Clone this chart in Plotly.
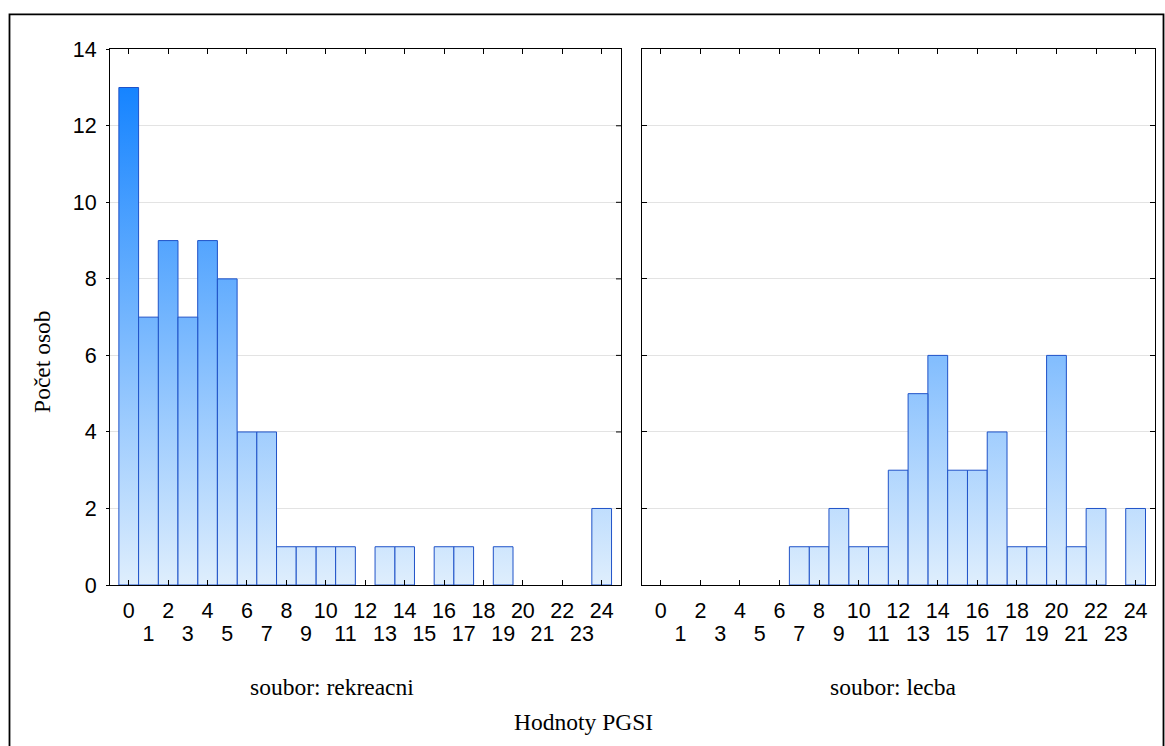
import plotly.graph_objects as go

# PGSI score bins and number of people per bin in each group
pgsi_values = list(range(25))
counts_rekreacni = [13, 7, 9, 7, 9, 8, 4, 4, 1, 1, 1, 1, 0, 1, 1, 0, 1, 1, 0, 1, 0, 0, 0, 0, 2]
counts_lecba = [0, 0, 0, 0, 0, 0, 0, 1, 1, 2, 1, 1, 3, 5, 6, 3, 3, 4, 1, 1, 6, 1, 2, 0, 2]

panel_titles = ["soubor: rekreacni", "soubor: lecba"]
y_title = "Počet osob"
x_title = "Hodnoty PGSI"
y_ticks = list(range(0, 15, 2))
even_vals = [v for v in pgsi_values if v % 2 == 0]
odd_vals = [v for v in pgsi_values if v % 2 == 1]

W, H = 1165, 746
SANS = "Liberation Sans, Arial, sans-serif"
SERIF = "Liberation Serif, Times New Roman, serif"
BAR_LINE = "#1f52c8"
GRADIENT = [[0.0, "rgb(230,242,253)"], [1.0, "rgb(22,132,255)"]]
GRAD_TOP = max(max(counts_rekreacni), max(counts_lecba))
TICK_SIZE = 21.5
TITLE_SIZE = 23.5

# vertical pixel -> paper fraction (page offset and drawable height)
TOP_OFF, DRAW_H = 9.6, 725.0


def py(px):
    return 1 - (px - TOP_OFF) / DRAW_H


def pxx(px):
    return px / W


# panel placement in pixels (left, right) and vertical extent (top, bottom)
panels_px = [(110, 621), (642, 1155)]
top_px, bottom_px = 48, 586
ydom = [py(bottom_px), py(top_px)]

fig = go.Figure()


def add_bars(counts, x_even, x_odd, yref):
    # even bins sit on the axis carrying even labels, odd bins on the odd-label overlay
    for v, c in zip(pgsi_values, counts):
        if c == 0:
            continue
        fig.add_trace(go.Scatter(
            x=[v - 0.5, v - 0.5, v + 0.5, v + 0.5, v - 0.5],
            y=[0, c, c, 0, 0],
            mode="lines",
            fill="toself",
            fillgradient=dict(type="vertical", colorscale=GRADIENT, start=0, stop=GRAD_TOP),
            line=dict(color=BAR_LINE, width=1),
            xaxis=x_even if v % 2 == 0 else x_odd, yaxis=yref,
            hoverinfo="skip",
            showlegend=False,
        ))


add_bars(counts_rekreacni, "x", "x3", "y")
add_bars(counts_lecba, "x2", "x4", "y2")

xrange_ = [-0.95, 24.98]
yrange_ = [0, 14]
tickfont = dict(family=SANS, size=TICK_SIZE, color="black")

# even labels (with inward tick marks) on the first row
base_x = dict(
    range=xrange_, tickmode="array", tickvals=even_vals, ticktext=[str(v) for v in even_vals],
    ticks="inside", ticklen=5, tickcolor="black", tickwidth=1,
    showgrid=False, zeroline=False, tickangle=0,
    showline=True, linecolor="black", linewidth=1, mirror="ticks",
    tickfont=tickfont, ticklabelstandoff=6,
)
# odd labels on a second row, no marks
odd_x = dict(
    range=xrange_, tickmode="array", tickvals=odd_vals, ticktext=[str(v) for v in odd_vals],
    ticks="", showgrid=False, zeroline=False, tickangle=0, showline=False,
    side="bottom", tickfont=tickfont, ticklabelstandoff=33,
)
base_y = dict(
    range=yrange_, tickmode="array", tickvals=y_ticks,
    tickcolor="black", tickwidth=1,
    showgrid=True, gridcolor="#e3e3e3", gridwidth=1, zeroline=False,
    showline=True, linecolor="black", linewidth=1,
    tickfont=tickfont, domain=ydom,
)

fig.update_layout(
    width=W, height=H,
    margin=dict(l=0, r=0, t=0, b=0),
    paper_bgcolor="white", plot_bgcolor="white",
    showlegend=False,
    xaxis=dict(base_x, domain=[pxx(panels_px[0][0]), pxx(panels_px[0][1])], anchor="y"),
    xaxis2=dict(base_x, domain=[pxx(panels_px[1][0]), pxx(panels_px[1][1])], anchor="y2"),
    xaxis3=dict(odd_x, overlaying="x", anchor="y"),
    xaxis4=dict(odd_x, overlaying="x2", anchor="y2"),
    yaxis=dict(base_y, anchor="x", ticks="outside", ticklen=3, mirror=True,
               showticklabels=True, ticklabelstandoff=5),
    yaxis2=dict(base_y, anchor="x2", ticks="inside", ticklen=5, mirror="ticks",
                showticklabels=False),
)

# inward tick marks on the right edge of the left panel
for yv in y_ticks[1:-1]:
    fig.add_shape(type="line", xref="x domain", yref="y",
                  x0=1, x1=1 - 5 / (panels_px[0][1] - panels_px[0][0]), y0=yv, y1=yv,
                  line=dict(color="black", width=1))

# outer frame
fig.add_shape(type="rect", xref="paper", yref="paper",
              x0=pxx(9.5), x1=pxx(1163.5), y0=-0.05, y1=py(13),
              line=dict(color="black", width=1.8), fillcolor="rgba(0,0,0,0)", layer="below")

# y-axis title
fig.add_annotation(text=y_title, xref="paper", yref="paper",
                   x=pxx(42), y=py(362), xanchor="center", yanchor="middle",
                   showarrow=False, textangle=-90,
                   font=dict(family=SERIF, size=TITLE_SIZE, color="black"))
# panel captions
for cx, t in zip([332, 893], panel_titles):
    fig.add_annotation(text=t, xref="paper", yref="paper",
                       x=pxx(cx), y=py(688), xanchor="center", yanchor="middle",
                       showarrow=False,
                       font=dict(family=SERIF, size=TITLE_SIZE, color="black"))
# x-axis title
fig.add_annotation(text=x_title, xref="paper", yref="paper",
                   x=pxx(583), y=py(724), xanchor="center", yanchor="middle",
                   showarrow=False,
                   font=dict(family=SERIF, size=TITLE_SIZE, color="black"))

fig.write_html("out.html")
